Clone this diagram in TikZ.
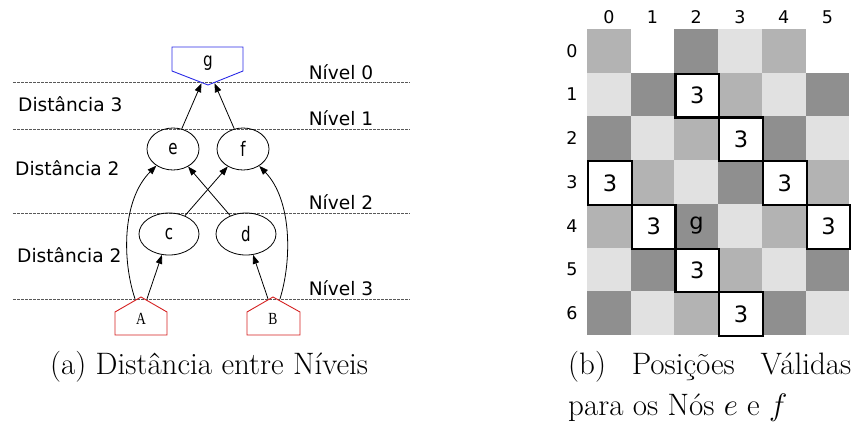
\RequirePackage{fix-cm}
\documentclass[tikz,border=0pt]{standalone}
\usepackage{fontspec}
\newfontfamily\dv{DejaVu Sans}
\newfontfamily\tms{Liberation Serif}
\usetikzlibrary{arrows.meta,shapes.geometric,calc}
\definecolor{cdark}{HTML}{8F8F8F}
\definecolor{cmid}{HTML}{B3B3B3}
\definecolor{clight}{HTML}{E1E1E1}
\definecolor{gblue}{HTML}{2A2AE6}
\definecolor{hred}{HTML}{D42020}
\begin{document}
\begin{tikzpicture}[x=1pt,y=-1pt,
  level/.style={draw=black!65,dashed,dash pattern=on 2.5pt off 1.5pt,line width=0.9pt},
  lbl/.style={font=\dv\fontsize{18.6}{21}\selectfont,inner sep=0},
  vnode/.style={draw,ellipse,inner sep=0,line width=0.8pt,font=\dv\fontsize{20}{22}\selectfont},
  arr/.style={line width=0.8pt,-{Triangle[length=9pt,width=6.5pt]}},
  cell/.style={minimum size=43.7pt,inner sep=0,anchor=north west,font=\dv\fontsize{22.5}{24}\selectfont},
  mark3/.style={draw=black,line width=2.2pt},
  idx/.style={font=\dv\fontsize{17.5}{19}\selectfont,inner sep=0},
  captext/.style={font=\fontsize{31}{34}\selectfont,inner sep=0,anchor=west}]
\useasboundingbox (0,0) rectangle (853,423);

% ---------- (a) levels ----------
\draw[level] (13,82) -- (410,82);
\draw[level] (13,129) -- (410,129);
\draw[level] (13,213) -- (410,213);
\draw[level] (13,299) -- (410,299);

\node[lbl] at (341,72) {Nível 0};
\node[lbl] at (341,118) {Nível 1};
\node[lbl] at (341,202) {Nível 2};
\node[lbl] at (341,288) {Nível 3};
\node[lbl,anchor=west] at (18,104) {Distância 3};
\node[lbl,anchor=west] at (15,168) {Distância 2};
\node[lbl,anchor=west] at (17,255) {Distância 2};

% goal node (inverted house)
\draw[gblue,line width=0.9pt] (172,47) -- (243,47) -- (243,71) -- (208,85) -- (172,71) -- cycle;
\node[inner sep=0,minimum width=71pt,minimum height=38pt] (g) at (207.5,66) {};
\node[font=\dv\fontsize{19}{21}\selectfont] at (208,63) {\scalebox{0.8}[1]{g}};

% inner nodes
\node[vnode,minimum width=52pt,minimum height=42pt] (e) at (173,149) {\scalebox{0.75}[1]{e}};
\node[vnode,minimum width=52pt,minimum height=42pt] (f) at (243,149) {\scalebox{0.75}[1]{f}};
\node[vnode,minimum width=60pt,minimum height=42pt] (c) at (169,234) {\scalebox{0.75}[1]{c}};
\node[vnode,minimum width=60pt,minimum height=42pt] (d) at (246,234) {\scalebox{0.75}[1]{d}};

% source nodes (houses)
\draw[hred,line width=0.9pt] (141,297) -- (167,312) -- (167,335) -- (115,335) -- (115,312) -- cycle;
\draw[hred,line width=0.9pt] (273,297) -- (300,312) -- (300,335) -- (247,335) -- (247,312) -- cycle;
\node[inner sep=0,minimum width=52pt,minimum height=38pt] (A) at (141,316) {};
\node[inner sep=0,minimum width=53pt,minimum height=38pt] (B) at (273.5,316) {};
\node[font=\tms\fontsize{17}{19}\selectfont] at (141,319) {\scalebox{0.8}[1]{A}};
\node[font=\tms\fontsize{17}{19}\selectfont] at (273,319) {\scalebox{0.8}[1]{B}};

% edges
\draw[arr] (e) -- ($(g.south)+(-6,-2)$);
\draw[arr] (f) -- ($(g.south)+(7,-2)$);
\draw[arr] (c) -- (f);
\draw[arr] (d) -- (e);
\draw[arr] ($(A.north)+(6,2)$) -- (c);
\draw[arr] ($(B.north)+(-5.5,2)$) -- (d);
\draw[arr] ($(A.north)+(-6,2)$) .. controls (122,260) and (122,200) .. (e);
\draw[arr] ($(B.north)+(6.5,2)$) .. controls (292,260) and (292,200) .. (f);

% ---------- (b) grid ----------
\foreach \r/\row in {0/{cmid,white,cdark,clight,cmid,white},
                     1/{clight,cdark,white,cmid,clight,cdark},
                     2/{cdark,clight,cmid,white,cdark,clight},
                     3/{white,cmid,clight,cdark,white,cmid},
                     4/{cmid,white,cdark,clight,cmid,white},
                     5/{clight,cdark,white,cmid,clight,cdark},
                     6/{cdark,clight,cmid,white,cdark,clight}}{
  \foreach \col [count=\c from 0] in \row {
    \fill[\col] (587+\c*43.7,29+\r*43.7) rectangle ++(43.7,43.7);
  }
}
\foreach \c in {0,...,5} \node[idx] at (587+\c*43.7+21.85,17) {\c};
\foreach \r in {0,...,6} \node[idx] at (572,29+\r*43.7+21.85) {\r};

\foreach \r/\c [count=\k] in {1/2,2/3,3/0,3/4,4/1,4/5,5/2,6/3}
  \node[cell,mark3] (p\k) at (587+\c*43.7,29+\r*43.7) {3};
\node[cell] (gg) at (587+2*43.7,29+4*43.7) {g};

% ---------- captions ----------
\node[captext] (capa) at (50,367) {(a) Distância entre Níveis};
\node[captext] (capb1) at (568,367) {\hbox to 283pt{(b)\hfill Posições\hfill Válidas}};
\node[captext] (capb2) at (568,408) {para os Nós $e$ e $f$};
\end{tikzpicture}
\end{document}
